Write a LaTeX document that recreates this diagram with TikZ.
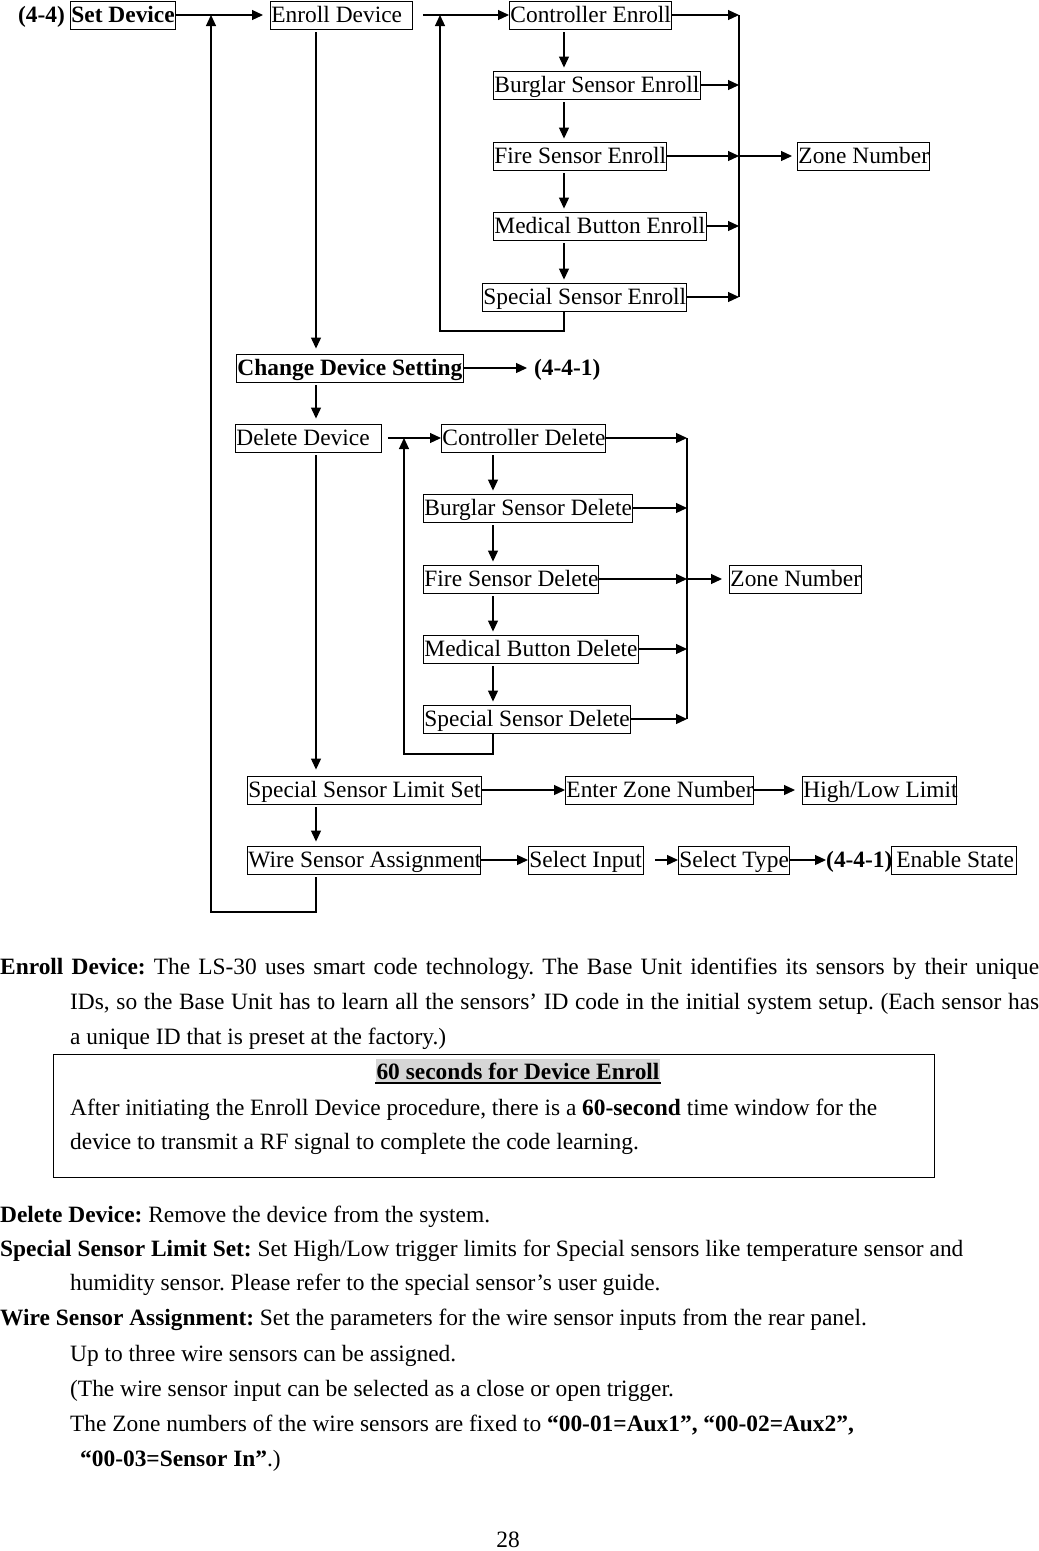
\documentclass[tikz,border=0pt]{standalone}
\usepackage{fontspec}
\setmainfont{Liberation Serif}
\usetikzlibrary{arrows.meta,calc}
\newcommand{\bxt}[2]{\makebox[#1][l]{#2}}
\frenchspacing
\begin{document}
\begin{tikzpicture}[x=1pt,y=-1pt,
  every node/.style={font=\fontsize{23.4}{28}\selectfont\frenchspacing},
  bx/.style={draw, line width=0.9pt, anchor=west, inner xsep=1pt, inner ysep=3.5pt,
             text height=18pt, text depth=3pt},
  lb/.style={anchor=west, inner sep=0pt, text height=18pt, text depth=3pt},
  txt/.style={anchor=base west, inner sep=0pt},
  ar/.style={line width=1.2pt, -{Triangle[length=11pt,width=10pt]}},
  ln/.style={line width=1.2pt},
]
\useasboundingbox (0,0) rectangle (1039,1551);

% ---------- guide coordinates ----------
\coordinate (spine) at (316,0);
\coordinate (colA) at (564,0);
\coordinate (barA) at (739,0);
\coordinate (loopA) at (440,331);
\coordinate (colB) at (493,0);
\coordinate (barB) at (687,0);
\coordinate (loopB) at (404,754);
\coordinate (outer) at (211,912);

% ---------- enroll block ----------
\node[lb] (lab44) at (18,15) {\textbf{(4-4)}};
\node[bx] (setdev) at (70,15) {\bxt{103pt}{\textbf{Set Device}}};
\node[bx] (enroll) at (270,15) {\bxt{140pt}{Enroll Device}};
\node[bx] (cenr) at (509,15) {\bxt{160pt}{Controller Enroll}};
\node[bx] (benr) at (493,85) {\bxt{205pt}{Burglar Sensor Enroll}};
\node[bx] (fenr) at (493,156) {\bxt{171pt}{Fire Sensor Enroll}};
\node[bx] (menr) at (493,226) {\bxt{211pt}{Medical Button Enroll}};
\node[bx] (senr) at (482,297) {\bxt{202pt}{Special Sensor Enroll}};
\node[bx] (zoneA) at (797,156) {\bxt{130pt}{Zone Number}};

\node[bx] (cds) at (236,368) {\bxt{225pt}{\textbf{Change Device Setting}}};
\node[lb] (p441a) at (534,368) {\textbf{(4-4-1)}};

% ---------- delete block ----------
\node[bx] (deldev) at (235,438) {\bxt{144pt}{Delete Device}};
\node[bx] (cdel) at (441,438) {\bxt{162pt}{Controller Delete}};
\node[bx] (bdel) at (423,508) {\bxt{207pt}{Burglar Sensor Delete}};
\node[bx] (fdel) at (423,579) {\bxt{173pt}{Fire Sensor Delete}};
\node[bx] (mdel) at (423,649) {\bxt{213pt}{Medical Button Delete}};
\node[bx] (sdel) at (423,719) {\bxt{205pt}{Special Sensor Delete}};
\node[bx] (zoneB) at (729,579) {\bxt{130pt}{Zone Number}};

% ---------- limit / wire ----------
\node[bx] (sslim) at (247,790) {\bxt{232pt}{Special Sensor Limit Set}};
\node[bx] (ezn) at (565,790) {\bxt{186pt}{Enter Zone Number}};
\node[bx] (hll) at (802,790) {\bxt{152pt}{High/Low Limit}};
\node[bx] (wsa) at (247,860) {\bxt{231pt}{Wire Sensor Assignment}};
\node[bx] (selin) at (528,860) {\bxt{113pt}{Select Input}};
\node[bx] (seltype) at (678,860) {\bxt{109pt}{Select Type}};
\node[lb] (p441b) at (826,860) {\textbf{(4-4-1)}};
\node[bx] (ena) at (891,860) {\bxt{123pt}{\,Enable State}};

% ---------- connectors: top ----------
\draw[ar] (setdev.east) -- ($(enroll.west)+(-7,0)$);
\draw[ar, shorten <=3pt] (spine|-wsa.south) -- (spine|-outer) -- (outer) -- (outer|-setdev.east);
\draw[ar] ($(enroll.east)+(10,0)$) -- (cenr.west);
\draw[ar] (colA|-senr.south) -- (colA|-loopA) -- (loopA) -- (loopA|-cenr.west);
\foreach \a/\b in {cenr/benr,benr/fenr,fenr/menr,menr/senr}
  \draw[ar, shorten <=3pt, shorten >=3pt] (colA|-\a.south) -- (colA|-\b.north);
\foreach \n in {cenr,benr,fenr,menr,senr}
  \draw[ar] (\n.east) -- (barA|-\n.east);
\draw[ln] (barA|-cenr.east) -- (barA|-senr.east);
\draw[ar] (barA|-fenr.east) -- ($(zoneA.west)+(-5,0)$);

\draw[ar, shorten <=3pt, shorten >=5pt] (spine|-enroll.south) -- (spine|-cds.north);
\draw[ar] (cds.east) -- ($(p441a.west)+(-7,0)$);
\draw[ar, shorten <=3pt, shorten >=5pt] (spine|-cds.south) -- (spine|-deldev.north);

% ---------- connectors: delete ----------
\draw[ar] ($(deldev.east)+(6,0)$) -- (cdel.west);
\draw[ar] (colB|-sdel.south) -- (colB|-loopB) -- (loopB) -- (loopB|-cdel.west);
\foreach \a/\b in {cdel/bdel,bdel/fdel,fdel/mdel,mdel/sdel}
  \draw[ar, shorten <=3pt, shorten >=3pt] (colB|-\a.south) -- (colB|-\b.north);
\foreach \n in {cdel,bdel,fdel,mdel,sdel}
  \draw[ar] (\n.east) -- (barB|-\n.east);
\draw[ln] (barB|-cdel.east) -- (barB|-sdel.east);
\draw[ar] (barB|-fdel.east) -- ($(zoneB.west)+(-7,0)$);

\draw[ar, shorten <=3pt, shorten >=6pt] (spine|-deldev.south) -- (spine|-sslim.north);

% ---------- connectors: limit / wire ----------
\draw[ar] (sslim.east) -- (ezn.west);
\draw[ar] (ezn.east) -- ($(hll.west)+(-7,0)$);
\draw[ar, shorten <=3pt, shorten >=4pt] (spine|-sslim.south) -- (spine|-wsa.north);
\draw[ar] (wsa.east) -- (selin.west);
\draw[ar] ($(selin.east)+(11,0)$) -- (seltype.west);
\draw[ar] (seltype.east) -- (p441b.west);

% ---------- body text ----------
\node[txt] (t1) at (0,974) {\makebox[1039pt][s]{\textbf{Enroll Device:} The LS-30 uses smart code technology. The Base Unit identifies its sensors by their unique}};
\node[txt] (t2) at (70,1009) {\makebox[969pt][s]{IDs, so the Base Unit has to learn all the sensors’ ID code in the initial system setup. (Each sensor has}};
\node[txt] (t3) at (70,1044) {a unique ID that is preset at the factory.)};

\node[draw, line width=0.9pt, anchor=north west, minimum width=881pt, minimum height=123pt, inner sep=0pt] (note) at (53,1054) {};
\node[fill=black!16, anchor=base, inner xsep=1pt, inner ysep=0pt, text height=20pt, text depth=4pt] (title) at (518,1079) {\textbf{60 seconds for Device Enroll}};
\draw[line width=2pt] (title.south west) -- (title.south east);
\node[txt] (n1) at (70,1115) {After initiating the Enroll Device procedure, there is a \textbf{60-second} time window for the};
\node[txt] (n2) at (70,1149) {device to transmit a RF signal to complete the code learning.};

\node[txt] (d1) at (0,1222) {\textbf{Delete Device:} Remove the device from the system.};
\node[txt] (d2) at (0,1256) {\textbf{Special Sensor Limit Set:} Set High/Low trigger limits for Special sensors like temperature sensor and};
\node[txt] (d3) at (70,1290) {humidity sensor. Please refer to the special sensor’s user guide.};
\node[txt] (d4) at (0,1325) {\textbf{Wire Sensor Assignment:} Set the parameters for the wire sensor inputs from the rear panel.};
\node[txt] (d5) at (70,1361) {Up to three wire sensors can be assigned.};
\node[txt] (d6) at (70,1396) {(The wire sensor input can be selected as a close or open trigger.};
\node[txt] (d7) at (70,1431) {The Zone numbers of the wire sensors are fixed to \textbf{“00-01=Aux1”, “00-02=Aux2”,}};
\node[txt] (d8) at (80,1466) {\textbf{“00-03=Sensor In”}.)};

\node[anchor=base, inner sep=0pt] (pg) at (508,1547) {28};
\end{tikzpicture}
\end{document}
